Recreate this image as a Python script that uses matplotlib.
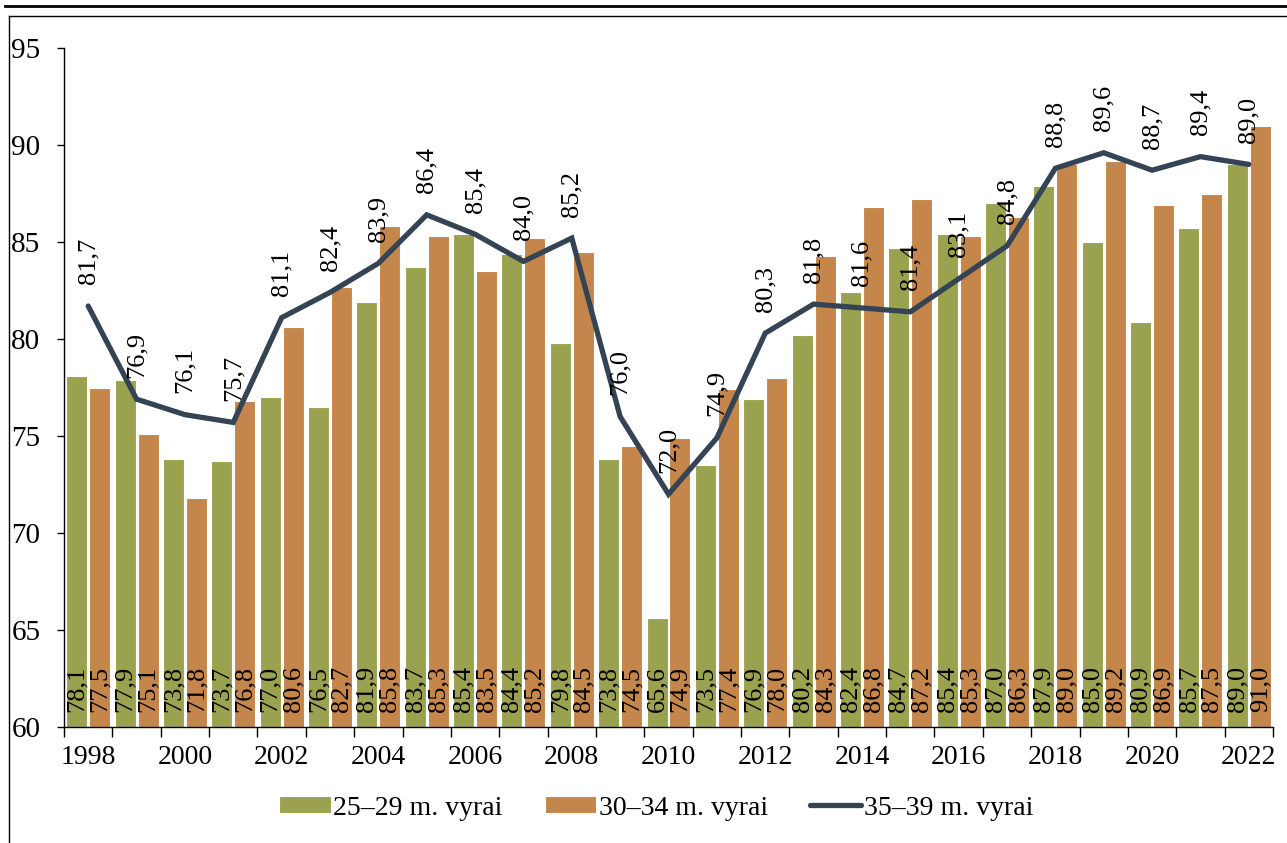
import matplotlib
matplotlib.use("Agg")
import matplotlib.pyplot as plt
from matplotlib.lines import Line2D
import numpy as np

years = list(range(1998, 2023))
age_25_29 = [78.1, 77.9, 73.8, 73.7, 77.0, 76.5, 81.9, 83.7, 85.4, 84.4, 79.8, 73.8, 65.6,
             73.5, 76.9, 80.2, 82.4, 84.7, 85.4, 87.0, 87.9, 85.0, 80.9, 85.7, 89.0]
age_30_34 = [77.5, 75.1, 71.8, 76.8, 80.6, 82.7, 85.8, 85.3, 83.5, 85.2, 84.5, 74.5, 74.9,
             77.4, 78.0, 84.3, 86.8, 87.2, 85.3, 86.3, 89.0, 89.2, 86.9, 87.5, 91.0]
age_35_39 = [81.7, 76.9, 76.1, 75.7, 81.1, 82.4, 83.9, 86.4, 85.4, 84.0, 85.2, 76.0, 72.0,
             74.9, 80.3, 81.8, 81.6, 81.4, 83.1, 84.8, 88.8, 89.6, 88.7, 89.4, 89.0]
series_names = ["25\u201329 m. vyrai", "30\u201334 m. vyrai", "35\u201339 m. vyrai"]
y_ticks = [60, 65, 70, 75, 80, 85, 90, 95]

GREEN = "#9AA24F"
ORANGE = "#C4864B"
LINE = "#344454"

plt.rcParams['font.family'] = ['Liberation Serif', 'DejaVu Serif']

fig = plt.figure(figsize=(12.87, 8.43), dpi=100)
ax = fig.add_axes([64 / 1287, 1 - 727 / 843, (1273 - 64) / 1287, (727 - 48) / 843])

x = np.arange(len(years))
off = 0.2376
w = 0.434
b1 = ax.bar(x - off, np.array(age_25_29) - 60, w, bottom=60, color=GREEN,
            edgecolor="white", linewidth=0.8, label=series_names[0], zorder=2)
b2 = ax.bar(x + off, np.array(age_30_34) - 60, w, bottom=60, color=ORANGE,
            edgecolor="white", linewidth=0.8, label=series_names[1], zorder=2)
ln, = ax.plot(x, age_35_39, color=LINE, linewidth=3.8, solid_capstyle="round",
              solid_joinstyle="miter", label=series_names[2], zorder=3)

def fmt(v):
    return f"{v:.1f}".replace(".", ",")

for xi, v in zip(x - off, age_25_29):
    ax.annotate(fmt(v), (xi, 60), xytext=(0, 10.5), textcoords="offset points",
                rotation=90, ha="center", va="bottom", fontsize=19, zorder=4)
for xi, v in zip(x + off, age_30_34):
    ax.annotate(fmt(v), (xi, 60), xytext=(0, 10.5), textcoords="offset points",
                rotation=90, ha="center", va="bottom", fontsize=19, zorder=4)
for xi, v in zip(x, age_35_39):
    ax.annotate(fmt(v), (xi, v), xytext=(0, 15.5), textcoords="offset points",
                rotation=90, ha="center", va="bottom", fontsize=19, zorder=4)

ax.set_xlim(-0.5, len(years) - 0.5)
ax.set_ylim(60, 95)
ax.set_yticks(y_ticks)
ax.set_yticklabels([str(t) for t in y_ticks])
ax.tick_params(axis="y", direction="out", length=5, width=1, labelsize=21, pad=12)

ax.set_xticks(np.arange(len(years) + 1) - 0.5)
ax.set_xticklabels([])
ax.tick_params(axis="x", which="major", direction="out", length=7, width=1)
ax.set_xticks(x[::2], minor=True)
ax.set_xticklabels([str(y) for y in years[::2]], minor=True)
ax.tick_params(axis="x", which="minor", length=0, labelsize=20, pad=13)

for s in ["top", "right"]:
    ax.spines[s].set_visible(False)
for s in ["left", "bottom"]:
    ax.spines[s].set_linewidth(1)
    ax.spines[s].set_color("black")

leg = fig.legend(handles=[b1, b2, ln], labels=series_names, loc="center",
                 bbox_to_anchor=(0.51, 0.0415), ncol=3, frameon=False, fontsize=20,
                 handlelength=1.85, handleheight=0.55, handletextpad=0.1,
                 columnspacing=1.5)

# frame lines
fig.add_artist(Line2D([5 / 1287, 1], [1 - 6 / 843, 1 - 6 / 843], color="black",
                      linewidth=2, transform=fig.transFigure))
fig.add_artist(Line2D([9 / 1287, 1], [1 - 15.5 / 843, 1 - 15.5 / 843], color="black",
                      linewidth=1, transform=fig.transFigure))
fig.add_artist(Line2D([9 / 1287, 9 / 1287], [1 - 15.5 / 843, 0], color="black",
                      linewidth=1, transform=fig.transFigure))

fig.savefig("out.png", dpi=100)
